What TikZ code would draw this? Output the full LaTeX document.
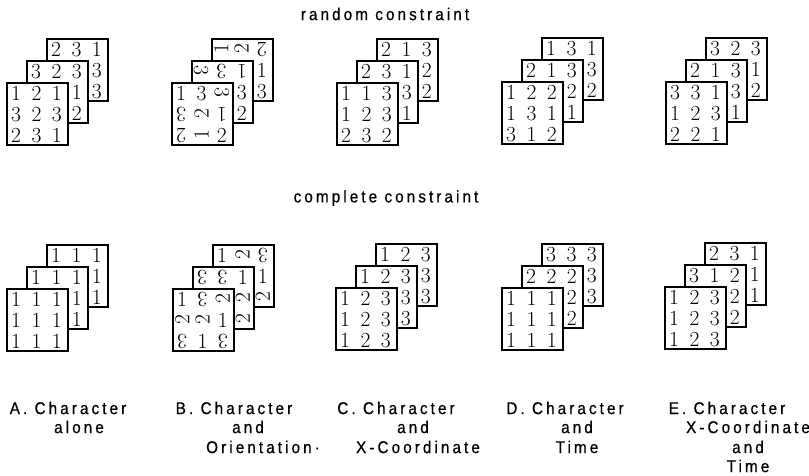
\documentclass[tikz,border=0pt]{standalone}
\usepackage{fontspec}
\usepackage{graphicx}
\usetikzlibrary{calc}
\newfontfamily\labfont[FakeStretch=0.9,LetterSpace=18,FakeBold=0.6]{Liberation Sans}
\newcommand\Ra[1]{\rotatebox[origin=c]{90}{#1}}
\newcommand\Rb[1]{\rotatebox[origin=c]{180}{#1}}
\newcommand\Rc[1]{\rotatebox[origin=c]{-90}{#1}}
\newcommand\fillsq[2]{%
  \foreach \dg [count=\i from 0] in {#2}{%
    \pgfmathtruncatemacro\cc{mod(\i,3)}%
    \pgfmathtruncatemacro\rr{int(\i/3)}%
    \node[dig] at ($(#1.north west)+({(\cc+0.5)*20.33},{(\rr+0.5)*20.67+1.5})$) {\dg};
  }}
\newcommand\stackof[6]{%
  \node[sqbox] (#1b) at (#2+40,#3-44) {}; \fillsq{#1b}{#4}
  \node[sqbox] (#1m) at (#2+20,#3-22) {}; \fillsq{#1m}{#5}
  \node[sqbox] (#1f) at (#2,#3) {}; \fillsq{#1f}{#6}}
\begin{document}
\begin{tikzpicture}[x=1pt,y=-1pt,
  sqbox/.style={draw=black,fill=white,line width=1.5pt,minimum width=61pt,minimum height=62pt,inner sep=0pt,anchor=north west},
  dig/.style={font=\fontsize{21.5}{21.5}\selectfont,inner sep=0pt},
  lab/.style={font=\labfont\fontsize{17}{17}\selectfont,inner sep=0pt}]
\useasboundingbox (0,0) rectangle (809,475);
\node[lab] (t1) at (385,14) {random constraint};
\node[lab] (t2) at (386,198) {complete constraint};
% random row
\stackof{rA}{6}{82}{2,3,1,{},{},3,{},{},3}{3,2,3,{},{},1,{},{},2}{1,2,1,3,2,3,2,3,1}
\stackof{rB}{171}{82}{{\Ra{1}},{\Ra{2}},{\Rb{2}},{},{},1,{},{},3}{{\Rc{3}},{\Rb{3}},{\Rb{1}},{},{},3,{},{},2}{1,3,{\Rc{3}},{\Rb{3}},{\Ra{2}},{\Rb{1}},{\Rb{2}},{\Ra{1}},2}
\stackof{rC}{336}{82}{2,1,3,{},{},2,{},{},2}{2,3,1,{},{},3,{},{},1}{1,1,3,1,2,3,2,3,2}
\stackof{rD}{501}{81}{1,3,1,{},{},3,{},{},2}{2,1,3,{},{},2,{},{},1}{1,2,2,1,3,1,3,1,2}
\stackof{rE}{665}{81}{3,2,3,{},{},1,{},{},2}{2,1,3,{},{},3,{},{},1}{3,3,1,1,2,3,2,2,1}
% complete row
\stackof{cA}{6}{288}{1,1,1,{},{},1,{},{},1}{1,1,1,{},{},1,{},{},1}{1,1,1,1,1,1,1,1,1}
\stackof{cB}{172}{288}{1,{\Ra{2}},{\Rb{3}},{},{},1,{},{},{\Ra{2}}}{{\Rb{3}},{\Rb{3}},1,{},{},{\Ra{2}},{},{},{\Ra{2}}}{1,{\Rb{3}},{\Ra{2}},{\Ra{2}},{\Ra{2}},1,{\Rb{3}},1,{\Rb{3}}}
\stackof{cC}{335}{287}{1,2,3,{},{},3,{},{},3}{1,2,3,{},{},3,{},{},3}{1,2,3,1,2,3,1,2,3}
\stackof{cD}{501}{287}{3,3,3,{},{},3,{},{},3}{2,2,2,{},{},2,{},{},2}{1,1,1,1,1,1,1,1,1}
\stackof{cE}{664}{286}{2,3,1,{},{},1,{},{},1}{3,1,2,{},{},2,{},{},2}{1,2,3,1,2,3,1,2,3}
% labels
\node[lab] (a1) at (68,408) {A. Character};
\node[lab] (a2) at (79,427) {alone};
\node[lab] (b1) at (234,408) {B. Character};
\node[lab] (b2) at (248,427) {and};
\node[lab] (b3) at (263,447) {Orientation·};
\node[lab] (c1) at (396,408) {C. Character};
\node[lab] (c2) at (413,427) {and};
\node[lab] (c3) at (418,447) {X-Coordinate};
\node[lab] (d1) at (565,408) {D. Character};
\node[lab] (d2) at (577,427) {and};
\node[lab] (d3) at (577,447) {Time};
\node[lab] (e1) at (727,408) {E. Character};
\node[lab] (e2) at (748,427) {X-Coordinate};
\node[lab] (e3) at (748,447) {and};
\node[lab] (e4) at (748,466) {Time};
\end{tikzpicture}
\end{document}
